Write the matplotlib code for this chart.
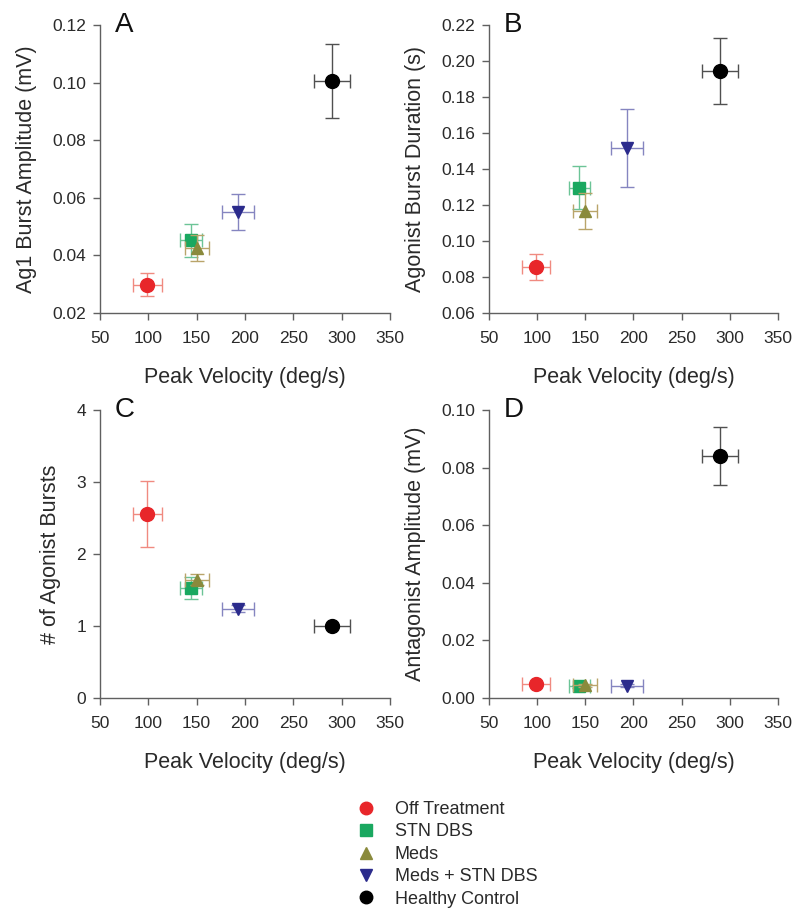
# -*- coding: utf-8 -*-
"""Four-panel scatter of EMG burst measures against peak velocity."""
import matplotlib
matplotlib.use("Agg")
import matplotlib.pyplot as plt
from matplotlib.lines import Line2D

plt.rcParams['font.family'] = ['Liberation Sans', 'DejaVu Sans']

groups = ['Off Treatment', 'STN DBS', 'Meds', 'Meds + STN DBS', 'Healthy Control']
markers = ['o', 's', '^', 'v', 'o']
colors = ['#e8262a', '#1aa860', '#8a8a3c', '#2b2b8c', '#000000']
err_colors = ['#f08a80', '#6cc497', '#b9a46a', '#8585c0', '#505050']

# peak velocity (deg/s), same for every panel
velocity = [99, 144, 150, 193, 290]
velocity_err = [15, 11, 12.5, 16.5, 19]

# A: Ag1 burst amplitude (mV)
amp = [0.0298, 0.0453, 0.0427, 0.0551, 0.1006]
amp_err = [0.004, 0.0058, 0.0045, 0.0064, 0.013]

# B: agonist burst duration (s)
dur = [0.0856, 0.1297, 0.1167, 0.1518, 0.1946]
dur_err = [0.007, 0.012, 0.010, 0.0218, 0.0183]

# C: number of agonist bursts
bursts = [2.56, 1.53, 1.645, 1.24, 1.0]
bursts_err = [0.46, 0.15, 0.08, 0.05, 0.03]

# D: antagonist amplitude (mV)
antag = [0.0048, 0.0041, 0.0044, 0.0043, 0.0841]
antag_err = [0.0005, 0.0005, 0.0005, 0.0005, 0.0102]

panels = [
    ('A', amp, amp_err, 'Ag1 Burst Amplitude (mV)', (0.02, 0.12), [0.02, 0.04, 0.06, 0.08, 0.10, 0.12], '{:.2f}'),
    ('B', dur, dur_err, 'Agonist Burst Duration (s)', (0.06, 0.22), [0.06, 0.08, 0.10, 0.12, 0.14, 0.16, 0.18, 0.20, 0.22], '{:.2f}'),
    ('C', bursts, bursts_err, '# of Agonist Bursts', (0, 4), [0, 1, 2, 3, 4], '{:.0f}'),
    ('D', antag, antag_err, 'Antagonist Amplitude (mV)', (0.0, 0.10), [0.00, 0.02, 0.04, 0.06, 0.08, 0.10], '{:.2f}'),
]

positions = [
    [0.125, 0.6575, 0.3625, 0.315],
    [0.611, 0.6575, 0.3615, 0.315],
    [0.125, 0.2363, 0.3625, 0.315],
    [0.611, 0.2363, 0.3615, 0.315],
]

fig = plt.figure(figsize=(8, 9.14), dpi=100)
txt = '#2a2a2a'
spine_c = '#606060'

for (letter, yv, ye, ylabel, ylim, yticks, fmt), pos in zip(panels, positions):
    ax = fig.add_axes(pos)
    for i in range(len(groups)):
        ax.errorbar(velocity[i], yv[i], xerr=velocity_err[i], yerr=ye[i],
                    fmt='none', ecolor=err_colors[i], elinewidth=1.0,
                    capsize=5, capthick=1.0, zorder=2 + i)
        ms = 10 if markers[i] == 'o' else 9
        ax.plot(velocity[i], yv[i], marker=markers[i], color=colors[i],
                ms=ms, ls='none', mec=colors[i], zorder=3 + i)
    ax.set_xlim(50, 350)
    ax.set_ylim(*ylim)
    ax.set_xticks([50, 100, 150, 200, 250, 300, 350])
    ax.set_yticks(yticks)
    ax.set_yticklabels([fmt.format(t) for t in yticks])
    for s in ('top', 'right'):
        ax.spines[s].set_visible(False)
    for s in ('left', 'bottom'):
        ax.spines[s].set_color(spine_c)
        ax.spines[s].set_linewidth(1.0)
    ax.tick_params(direction='out', length=5, width=1, color=spine_c,
                   labelsize=12.5, labelcolor=txt)
    ax.tick_params(axis='x', pad=8)
    ax.tick_params(axis='y', pad=5)
    ax.set_xlabel('Peak Velocity (deg/s)', fontsize=15.5, color=txt, labelpad=15)
    ax.set_ylabel(ylabel, fontsize=15.5, color=txt, labelpad=11)
    for lab in ax.get_xticklabels() + ax.get_yticklabels():
        lab.set_clip_on(False)
    ax.text(0.05, 1.0, letter, transform=ax.transAxes, fontsize=20,
            color='#111111', va='center', ha='left')

handles = [Line2D([], [], marker=m, color=c, ls='none', ms=9 if m == 'o' else 8)
           for m, c in zip(markers, colors)]
leg = fig.legend(handles, groups, loc='upper left', frameon=False, fontsize=13,
                 handletextpad=0.6, labelspacing=0.3, borderaxespad=0,
                 borderpad=0)
leg.set_bbox_to_anchor((0.435, 1 - 801 / 914), transform=fig.transFigure)
for t in leg.get_texts():
    t.set_color(txt)

fig.savefig('out.png', dpi=100)
